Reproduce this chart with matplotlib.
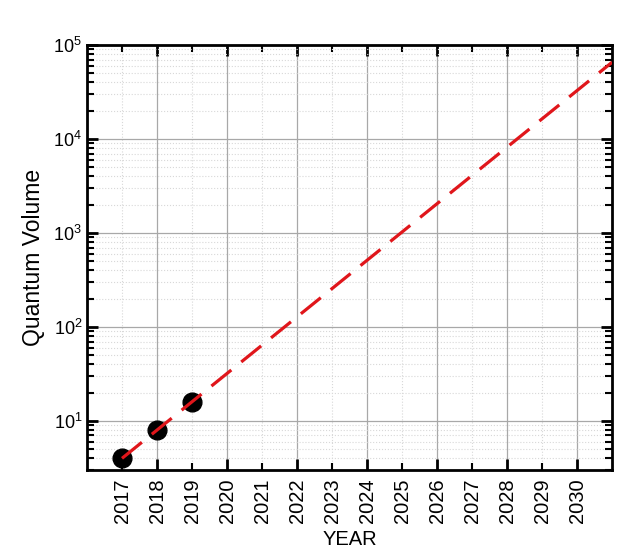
import numpy as np
import matplotlib
matplotlib.use("Agg")
import matplotlib.pyplot as plt
from matplotlib.ticker import LogLocator, LogFormatterMathtext, NullFormatter

plt.rcParams['font.family'] = ['Liberation Sans', 'DejaVu Sans']
plt.rcParams['mathtext.fontset'] = 'custom'
plt.rcParams['mathtext.rm'] = 'Liberation Sans'
plt.rcParams['mathtext.it'] = 'Liberation Sans:italic'

years = [2017, 2018, 2019]
qv = [4, 8, 16]
trend_years = [2017, 2031]
trend_start = 4
doubling_per_year = 2

major_years = list(range(2016, 2032, 2))
minor_years = list(range(2017, 2031, 2))

fig = plt.figure(figsize=(6.35, 5.55), dpi=100)
ax = fig.add_axes([0.137, 0.153, 0.827, 0.766])

tx = np.linspace(trend_years[0], trend_years[1], 200)
ty = trend_start * doubling_per_year ** (tx - trend_years[0])

ax.plot(years, qv, 'o', color='black', markersize=13.5, zorder=3)
ax.plot(tx, ty, color='#e0161b', lw=2.3, dashes=(8, 4), zorder=4, dash_capstyle='butt')

ax.set_yscale('log')
ax.set_xlim(2016, 2031)
ax.set_ylim(3, 1e5)

ax.set_xticks(major_years[1:], labels=[str(y) for y in major_years[1:]], rotation=90)
ax.set_xticks(minor_years, labels=[str(y) for y in minor_years], minor=True, rotation=90)
ax.xaxis.set_tick_params(which='both', labelsize=14.5)

ax.yaxis.set_major_locator(LogLocator(base=10, numticks=10))
ax.yaxis.set_minor_locator(LogLocator(base=10, subs=np.arange(2, 10), numticks=20))
ax.yaxis.set_major_formatter(LogFormatterMathtext())
ax.yaxis.set_minor_formatter(NullFormatter())
ax.yaxis.set_tick_params(which='both', labelsize=13)

ax.tick_params(which='major', direction='in', length=8, width=2, top=True, right=True)
ax.tick_params(which='minor', direction='in', length=5, width=1.5, top=True, right=True)
ax.tick_params(axis='x', which='both', pad=6)

ax.grid(which='major', color='#a8a8a8', lw=0.9, ls='-')
ax.grid(which='minor', color='#d8d8d8', lw=0.8, ls=':')
ax.set_axisbelow(True)

for s in ax.spines.values():
    s.set_linewidth(2)

ax.set_xlabel('YEAR', fontsize=14.5, labelpad=5)
ax.set_ylabel('Quantum Volume', fontsize=16.5, labelpad=6)

fig.savefig('out.png', dpi=100)
